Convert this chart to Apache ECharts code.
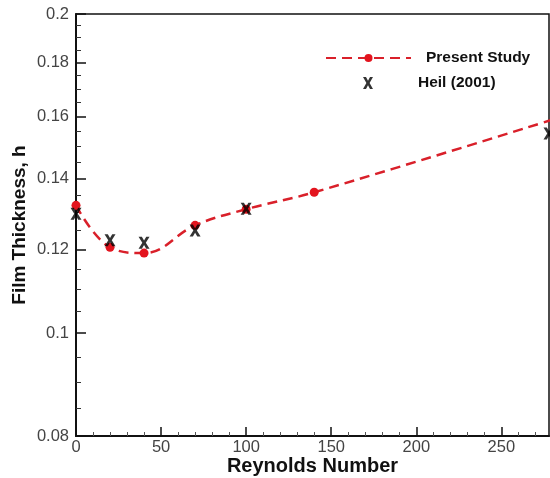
<!DOCTYPE html>
<html>
<head>
<meta charset="utf-8">
<script src="https://cdn.jsdelivr.net/npm/echarts@6/dist/echarts.min.js"></script>
<style>
  html, body { margin: 0; padding: 0; background: #fff; }
  #chart { width: 550px; height: 478px; }
</style>
</head>
<body>
<div id="chart"></div>
<script>
// Present Study: film thickness h vs Reynolds number
const reynolds = [0, 20, 40, 70, 100, 140, 280];
const presentStudy = [0.132, 0.1205, 0.119, 0.1264, 0.1309, 0.1358, 0.159];

// Heil (2001) reference values
const heilRe = [0, 20, 40, 70, 100, 278];
const heil2001 = [0.1296, 0.1224, 0.1217, 0.125, 0.131, 0.1543];

// Axis ticks
const yTicks = [0.08, 0.1, 0.12, 0.14, 0.16, 0.18, 0.2];
const yTickLabels = ['0.08', '0.1', '0.12', '0.14', '0.16', '0.18', '0.2'];
const yMinorTicks = [0.085, 0.09, 0.095, 0.105, 0.11, 0.115, 0.125, 0.13, 0.135,
                     0.145, 0.15, 0.155, 0.165, 0.17, 0.175, 0.185, 0.19, 0.195];
const xTicks = [0, 50, 100, 150, 200, 250];
const xMinorTicks = [10, 20, 30, 40, 60, 70, 80, 90, 110, 120, 130, 140, 160, 170, 180, 190,
                     210, 220, 230, 240, 260, 270];

// The vertical axis is logarithmic: values are placed by log10 on a value axis.
const lg = Math.log10;
const yMin = lg(0.08), yMax = lg(0.2);
const xMax = 278;

const FONT = "'Liberation Sans', Arial, sans-serif";
const X_PATH = 'path://M0,0H3L5,3.8L7,0H10L6.6,6L10,12H7L5,8.2L3,12H0L3.4,6Z';

function yLabel(v) {
  let best = 0;
  for (let i = 1; i < yTicks.length; i++) {
    if (Math.abs(lg(yTicks[i]) - v) < Math.abs(lg(yTicks[best]) - v)) best = i;
  }
  return yTickLabels[best];
}

const chart = echarts.init(document.getElementById('chart'));
chart.setOption({
  animation: false,
  backgroundColor: '#fff',
  textStyle: { fontFamily: FONT },
  grid: {
    left: 76, right: 1, top: 14, bottom: 42,
    outerBoundsMode: 'none', containLabel: false,
    show: true, borderColor: '#111', borderWidth: 1.5, backgroundColor: 'transparent'
  },
  legend: [
    {
      data: ['Present Study'],
      left: 325, top: 50, padding: 0,
      itemWidth: 85, itemHeight: 10,
      textStyle: { fontFamily: FONT, fontWeight: 'bold', fontSize: 15.5, color: '#111', padding: [0, 0, 0, 10] }
    },
    {
      data: ['Heil (2001)'],
      left: 363, top: 75, padding: 0,
      itemWidth: 10, itemHeight: 12,
      textStyle: { fontFamily: FONT, fontWeight: 'bold', fontSize: 15.5, color: '#111', padding: [0, 0, 0, 40] }
    }
  ],
  xAxis: [
    {
      type: 'value', min: 0, max: xMax,
      name: 'Reynolds Number', nameLocation: 'middle', nameGap: 20, nameMoveOverlap: false,
      nameTextStyle: { fontFamily: FONT, fontWeight: 'bold', fontSize: 20, color: '#111' },
      axisLine: { lineStyle: { color: '#111', width: 2 } },
      axisTick: { inside: true, length: 9, customValues: xTicks, lineStyle: { color: '#111', width: 1.5 } },
      axisLabel: { customValues: xTicks, fontFamily: FONT, fontSize: 16.5, color: '#444', margin: 3 },
      splitLine: { show: false }
    },
    {
      type: 'value', min: 0, max: xMax, position: 'bottom',
      axisLine: { show: false },
      axisTick: { inside: true, length: 4, customValues: xMinorTicks, lineStyle: { color: '#555', width: 1 } },
      axisLabel: { show: false },
      splitLine: { show: false }
    }
  ],
  yAxis: [
    {
      type: 'value', min: yMin, max: yMax,
      name: 'Film Thickness, h', nameLocation: 'middle', nameGap: 47, nameMoveOverlap: false,
      nameTextStyle: { fontFamily: FONT, fontWeight: 'bold', fontSize: 19, color: '#111' },
      axisLine: { lineStyle: { color: '#111', width: 2 } },
      axisTick: { inside: true, length: 10, customValues: yTicks.map(lg), lineStyle: { color: '#111', width: 1.5 } },
      axisLabel: {
        customValues: yTicks.map(lg), formatter: yLabel,
        fontFamily: FONT, fontSize: 16.5, color: '#444', margin: 7
      },
      splitLine: { show: false }
    },
    {
      type: 'value', min: yMin, max: yMax, position: 'left',
      axisLine: { show: false },
      axisTick: { inside: true, length: 5, customValues: yMinorTicks.map(lg), lineStyle: { color: '#333', width: 1 } },
      axisLabel: { show: false },
      splitLine: { show: false }
    }
  ],
  series: [
    {
      name: 'Present Study',
      type: 'line',
      smooth: 0.4,
      clip: true,
      data: reynolds.map((r, i) => [r, lg(presentStudy[i])]),
      symbol: 'circle', symbolSize: 9,
      itemStyle: { color: '#e3141e' },
      lineStyle: { color: '#d9202a', width: 2.5, type: [10, 6] },
      z: 3
    },
    {
      name: 'Heil (2001)',
      type: 'scatter',
      data: heilRe.map((r, i) => [r, lg(heil2001[i])]),
      symbol: X_PATH, symbolSize: [11, 12],
      itemStyle: { color: '#000' },
      z: 4
    }
  ]
});
</script>
</body>
</html>
